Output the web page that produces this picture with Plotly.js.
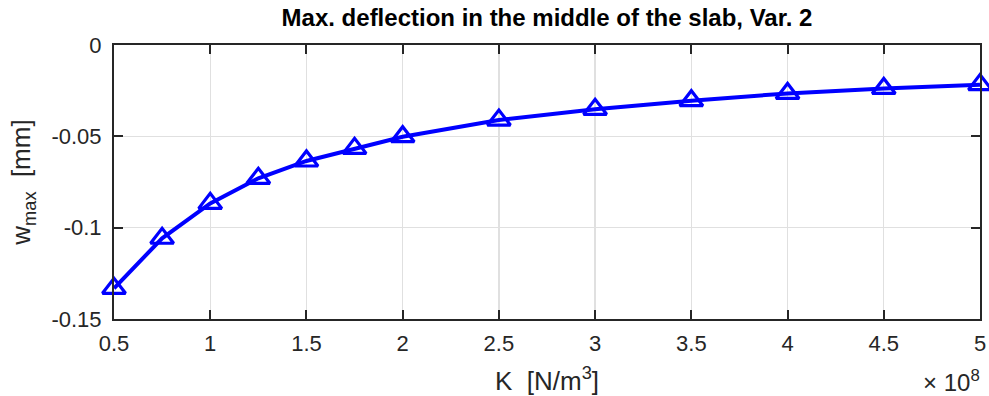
<!DOCTYPE html>
<html>
<head>
<meta charset="utf-8">
<script src="https://cdn.plot.ly/plotly-3.0.1.min.js"></script>
<style>html,body{margin:0;padding:0;background:#fff;}#chart{width:989px;height:396px;}</style>
</head>
<body>
<div id="chart"></div>
<script>
// K in units of 1e8 N/m^3
const K = [0.5, 0.75, 1.0, 1.25, 1.5, 1.75, 2.0, 2.5, 3.0, 3.5, 4.0, 4.5, 5.0];
const wmax = [-0.1332, -0.1058, -0.0867, -0.0730, -0.0635, -0.0566, -0.0502, -0.0411, -0.0352, -0.0305, -0.0265, -0.0238, -0.0217];
const xTickVals = [0.5, 1, 1.5, 2, 2.5, 3, 3.5, 4, 4.5, 5];
const xTickText = ['0.5', '1', '1.5', '2', '2.5', '3', '3.5', '4', '4.5', '5'];
const yTickVals = [0, -0.05, -0.1, -0.15];
const yTickText = ['0', '-0.05', '-0.1', '-0.15'];

const font = 'Liberation Sans, Arial, sans-serif';
const axisCol = '#262626';

const trace = {
  x: K, y: wmax, type: 'scatter', mode: 'lines+markers',
  line: {color: '#0000ff', width: 4},
  marker: {symbol: 'triangle-up-open', size: 20, color: '#0000ff', line: {width: 3.2, color: '#0000ff'}},
  hoverinfo: 'x+y', cliponaxis: false
};

const layout = {
  width: 989, height: 396,
  margin: {l: 114, r: 9, t: 45, b: 77},
  paper_bgcolor: '#fff', plot_bgcolor: '#fff',
  showlegend: false,
  font: {family: font, color: axisCol, size: 22},
  title: {text: '<b>Max. deflection in the middle of the slab, Var. 2</b>', xref: 'paper', x: 0.5, xanchor: 'center',
          yref: 'container', y: 0.955, yanchor: 'middle',
          font: {family: font, size: 24, color: '#000'}},
  xaxis: {
    range: [0.5, 5], tickvals: xTickVals, ticktext: xTickText,
    showgrid: true, gridcolor: '#e0e0e0', gridwidth: 1.3,
    showline: true, linecolor: axisCol, linewidth: 2, mirror: 'ticks',
    ticks: 'inside', ticklen: 9, tickcolor: axisCol, tickwidth: 2,
    zeroline: false, tickfont: {size: 22, color: axisCol}, ticklabelstandoff: 4,
    title: {text: 'K  [N/m<sup>3</sup>]', font: {size: 26, color: axisCol}, standoff: 16}
  },
  yaxis: {
    range: [-0.15, 0], tickvals: yTickVals, ticktext: yTickText,
    showgrid: true, gridcolor: '#e0e0e0', gridwidth: 1.3,
    showline: true, linecolor: axisCol, linewidth: 2, mirror: 'ticks',
    ticks: 'inside', ticklen: 9, tickcolor: axisCol, tickwidth: 2,
    zeroline: false, tickfont: {size: 22, color: axisCol}, ticklabelstandoff: 6,
    title: {text: 'w<sub>max</sub>  [mm]', font: {size: 26, color: axisCol}, standoff: 13}
  },
  annotations: [{
    xref: 'paper', yref: 'paper', x: 1, y: 0, xanchor: 'right', yanchor: 'middle',
    yshift: -62, xshift: 2, showarrow: false,
    text: '× 10<sup>8</sup>', font: {family: font, size: 24, color: axisCol}
  }]
};

Plotly.newPlot('chart', [trace], layout, {displayModeBar: false, staticPlot: true});
</script>
</body>
</html>
